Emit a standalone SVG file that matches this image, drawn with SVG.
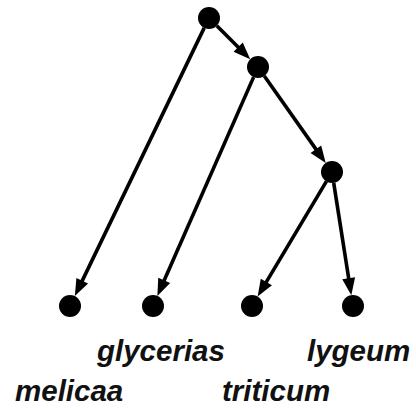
<svg xmlns="http://www.w3.org/2000/svg" width="416" height="408" viewBox="0 0 416 408">
<style>
.n{fill:#000}
.e{stroke:#000;stroke-width:3.6;fill:none;marker-end:url(#ah)}
.t{font-family:"Liberation Sans",Arial,sans-serif;font-weight:bold;font-style:italic;font-size:29.5px;fill:#111}
</style>
<defs>
<marker id="ah" markerUnits="userSpaceOnUse" markerWidth="20" markerHeight="14" refX="4" refY="6.5" orient="auto" overflow="visible">
<path d="M0,0 L17,6.5 L0,13 z" fill="#000"/>
</marker>
</defs>
<rect width="416" height="408" fill="#fff"/>
<g id="edges">
<line class="e" x1="204.2" y1="27.9" x2="80.5" y2="284.4"/>
<line class="e" x1="216.8" y1="25.8" x2="241.0" y2="50.0"/>
<line class="e" x1="253.6" y1="77.1" x2="162.6" y2="284.0"/>
<line class="e" x1="264.3" y1="76.0" x2="318.2" y2="152.4"/>
<line class="e" x1="326.4" y1="181.4" x2="264.3" y2="285.4"/>
<line class="e" x1="333.7" y1="182.9" x2="349.3" y2="282.3"/>
</g>
<g id="root"><circle class="n" cx="209" cy="18" r="11"/></g>
<g id="node2"><circle class="n" cx="258" cy="67" r="11"/></g>
<g id="node3"><circle class="n" cx="332" cy="172" r="11"/></g>
<g id="melicaa"><circle class="n" cx="70" cy="306" r="11"/><text class="t" x="15" y="401">melicaa</text></g>
<g id="glycerias"><circle class="n" cx="153" cy="306" r="11"/><text class="t" x="97" y="361">glycerias</text></g>
<g id="triticum"><circle class="n" cx="252" cy="306" r="11"/><text class="t" x="222" y="401">triticum</text></g>
<g id="lygeum"><circle class="n" cx="353" cy="306" r="11"/><text class="t" x="307" y="361">lygeum</text></g>
</svg>
